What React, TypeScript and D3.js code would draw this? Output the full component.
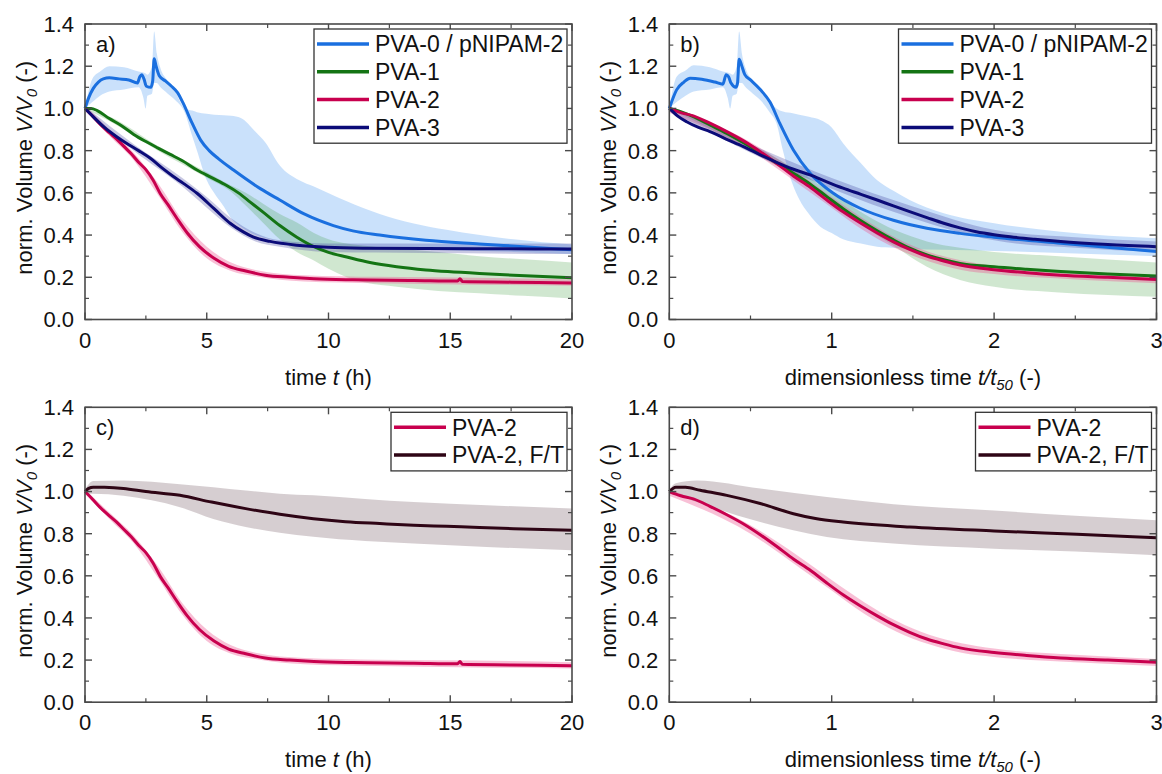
import * as d3 from "d3";

const W = 1162;
const H = 774;
const FONT = "'Liberation Sans', Arial, Helvetica, sans-serif";

type Pt = [number, number];
type Bd = [number, number, number];

// ---- x / y ticks ----
const timeTicks = [0, 5, 10, 15, 20];
const timeMinor = [2.5, 7.5, 12.5, 17.5];
const dimTicks = [0, 1, 2, 3];
const dimMinor = [0.5, 1.5, 2.5];
const volTicks = [0, 0.2, 0.4, 0.6, 0.8, 1.0, 1.2, 1.4];
const volMinor = [0.1, 0.3, 0.5, 0.7, 0.9, 1.1, 1.3];

// ---- panel a: time (h) ----
const pva0Time: Pt[] = [
  [0, 1.0], [0.15, 1.05], [0.34, 1.095], [0.55, 1.125], [0.75, 1.14], [1.0, 1.145], [1.4, 1.14],
  [1.8, 1.135], [2.15, 1.12], [2.25, 1.15], [2.33, 1.16], [2.42, 1.14], [2.52, 1.105], [2.7, 1.1],
  [2.78, 1.13], [2.84, 1.235], [2.92, 1.2], [3.05, 1.155], [3.3, 1.13], [3.55, 1.105], [3.8, 1.075],
  [4.05, 1.02], [4.4, 0.93], [4.75, 0.85], [5.1, 0.8], [5.5, 0.76], [6.1, 0.708], [7.2, 0.62],
  [8.0, 0.566], [9.0, 0.5], [10.2, 0.445], [11.0, 0.42], [12.1, 0.4], [14.0, 0.375], [16.2, 0.358],
  [18.0, 0.345], [20, 0.33],
];
const pva0TimeBand: Bd[] = [
  [0, 1.0, 1.0], [0.3, 1.03, 1.14], [0.62, 1.06, 1.175], [1.0, 1.08, 1.2], [1.6, 1.09, 1.195],
  [2.2, 1.1, 1.175], [2.4, 1.05, 1.17], [2.49, 1.0, 1.165], [2.56, 1.06, 1.16], [2.75, 1.07, 1.2],
  [2.84, 1.12, 1.365], [2.95, 1.12, 1.26], [3.1, 1.1, 1.19], [3.4, 1.07, 1.13], [3.7, 1.04, 1.08],
  [4.1, 0.98, 1.0], [4.4, 0.87, 0.99], [4.6, 0.8, 0.982], [5.0, 0.66, 0.975], [5.3, 0.6, 0.97],
  [5.7, 0.535, 0.968], [6.0, 0.48, 0.965], [6.4, 0.44, 0.955], [7.0, 0.4, 0.89], [7.4, 0.385, 0.84],
  [8.0, 0.37, 0.73], [8.8, 0.36, 0.66], [9.4, 0.355, 0.63], [10.75, 0.345, 0.56], [12.1, 0.338, 0.5],
  [13.5, 0.333, 0.455], [14.85, 0.328, 0.425], [17.6, 0.32, 0.38], [20, 0.31, 0.355],
];
const pva1Time: Pt[] = [
  [0, 1.0], [0.25, 1.0], [0.5, 0.99], [1.0, 0.952], [1.5, 0.918], [2.0, 0.877], [2.5, 0.843],
  [3.0, 0.812], [3.5, 0.782], [4.0, 0.752], [4.6, 0.708], [5.2, 0.672], [5.8, 0.636], [6.3, 0.6],
  [6.8, 0.555], [7.3, 0.51], [8.0, 0.445], [8.7, 0.39], [9.4, 0.345], [10.0, 0.318], [10.75, 0.296],
  [11.7, 0.27], [12.8, 0.25], [14.0, 0.235], [14.9, 0.227], [16.2, 0.218], [17.6, 0.21], [20, 0.198],
];
const pva1TimeBand: Bd[] = [
  [0, 1.0, 1.0], [1, 0.94, 0.962], [3, 0.8, 0.822], [5, 0.672, 0.698], [6.0, 0.605, 0.635],
  [6.6, 0.54, 0.6], [7.3, 0.46, 0.55], [8.0, 0.38, 0.5], [8.7, 0.32, 0.46], [9.4, 0.28, 0.41],
  [10.0, 0.24, 0.38], [10.75, 0.2, 0.36], [11.5, 0.175, 0.35], [12.8, 0.155, 0.335],
  [14.5, 0.135, 0.32], [16.2, 0.124, 0.3], [18, 0.112, 0.285], [20, 0.1, 0.27],
];
const pva2Time: Pt[] = [
  [0, 1.0], [0.3, 0.965], [0.62, 0.925], [1.0, 0.885], [1.3, 0.855], [1.6, 0.82], [1.9, 0.785],
  [2.2, 0.745], [2.5, 0.71], [2.8, 0.66], [3.1, 0.595], [3.4, 0.545], [3.8, 0.475], [4.2, 0.41],
  [4.7, 0.345], [5.3, 0.29], [5.9, 0.252], [6.6, 0.23], [7.4, 0.21], [8.4, 0.2], [9.4, 0.193],
  [11, 0.188], [13.5, 0.185], [15.3, 0.182], [15.4, 0.193], [15.5, 0.18], [17.5, 0.177], [20, 0.173],
];
const pva2TimeBand: Bd[] = [
  [0, 0.99, 1.01], [1, 0.87, 0.9], [2, 0.755, 0.79], [3, 0.59, 0.645], [4, 0.415, 0.47],
  [5, 0.29, 0.345], [6, 0.23, 0.27], [7, 0.205, 0.235], [9, 0.18, 0.21], [12, 0.172, 0.202],
  [16, 0.165, 0.198], [20, 0.16, 0.19],
];
const pva3Time: Pt[] = [
  [0, 1.0], [0.34, 0.96], [0.8, 0.91], [1.3, 0.866], [1.7, 0.835], [2.2, 0.8], [2.67, 0.765],
  [3.2, 0.715], [3.6, 0.68], [4.04, 0.645], [4.6, 0.598], [5.3, 0.525], [5.96, 0.456], [6.5, 0.415],
  [6.92, 0.39], [7.6, 0.37], [8.7, 0.352], [10, 0.342], [11.4, 0.338], [14, 0.336], [17, 0.335],
  [20, 0.334],
];
const pva3TimeBand: Bd[] = [
  [0, 0.99, 1.01], [2, 0.8, 0.83], [4, 0.63, 0.67], [5, 0.53, 0.58], [6, 0.435, 0.48],
  [7, 0.37, 0.41], [8, 0.345, 0.375], [10, 0.32, 0.36], [14, 0.315, 0.36], [20, 0.31, 0.36],
];

// ---- panel b: dimensionless time t/t50 ----
const pva0Dim: Pt[] = [
  [0, 1.0], [0.045, 1.088], [0.09, 1.125], [0.128, 1.143], [0.2, 1.138], [0.28, 1.125], [0.33, 1.115],
  [0.35, 1.16], [0.365, 1.15], [0.38, 1.12], [0.41, 1.1], [0.42, 1.12], [0.43, 1.233], [0.445, 1.205],
  [0.465, 1.16], [0.5, 1.135], [0.56, 1.09], [0.62, 1.03], [0.68, 0.93], [0.764, 0.803],
  [0.867, 0.693], [1.01, 0.598], [1.175, 0.527], [1.38, 0.47], [1.586, 0.432], [1.79, 0.408],
  [2.0, 0.39], [2.41, 0.361], [3.0, 0.322],
];
const pva0DimBand: Bd[] = [
  [0, 1.0, 1.0], [0.045, 1.03, 1.15], [0.1, 1.06, 1.18], [0.15, 1.08, 1.205], [0.25, 1.09, 1.195],
  [0.33, 1.1, 1.175], [0.36, 1.05, 1.17], [0.375, 1.0, 1.165], [0.39, 1.06, 1.16], [0.415, 1.07, 1.2],
  [0.43, 1.12, 1.365], [0.447, 1.12, 1.26], [0.47, 1.1, 1.19], [0.515, 1.07, 1.13], [0.56, 1.04, 1.08],
  [0.62, 0.98, 1.03], [0.66, 0.93, 1.0], [0.7, 0.8, 0.985], [0.76, 0.64, 0.977], [0.8, 0.57, 0.97],
  [0.86, 0.5, 0.96], [0.93, 0.44, 0.945], [1.0, 0.41, 0.91], [1.07, 0.38, 0.835], [1.18, 0.36, 0.74],
  [1.28, 0.345, 0.66], [1.38, 0.34, 0.61], [1.48, 0.335, 0.566], [1.69, 0.33, 0.503],
  [2.0, 0.325, 0.456], [2.41, 0.315, 0.416], [3.0, 0.3, 0.385],
];
const pva1Dim: Pt[] = [
  [0, 1.0], [0.07, 0.985], [0.148, 0.961], [0.25, 0.922], [0.354, 0.882], [0.46, 0.836], [0.56, 0.788],
  [0.66, 0.742], [0.764, 0.693], [0.87, 0.64], [0.97, 0.582], [1.07, 0.525], [1.175, 0.47],
  [1.28, 0.42], [1.38, 0.377], [1.48, 0.338], [1.586, 0.306], [1.69, 0.283], [1.79, 0.266],
  [2.0, 0.25], [2.2, 0.238], [2.41, 0.227], [2.7, 0.215], [3.0, 0.206],
];
const pva1DimBand: Bd[] = [
  [0, 1.0, 1.0], [0.5, 0.8, 0.83], [0.8, 0.66, 0.7], [1.0, 0.55, 0.6], [1.2, 0.44, 0.5],
  [1.4, 0.34, 0.42], [1.586, 0.25, 0.37], [1.79, 0.187, 0.34], [2.0, 0.155, 0.32], [2.4, 0.128, 0.3],
  [3.0, 0.108, 0.27],
];
const pva2Dim: Pt[] = [
  [0, 1.0], [0.07, 0.98], [0.148, 0.965], [0.25, 0.93], [0.354, 0.89], [0.46, 0.845], [0.56, 0.795],
  [0.66, 0.74], [0.764, 0.68], [0.87, 0.625], [0.97, 0.566], [1.07, 0.51], [1.175, 0.458],
  [1.28, 0.41], [1.38, 0.368], [1.48, 0.332], [1.586, 0.3], [1.69, 0.277], [1.79, 0.258],
  [2.0, 0.236], [2.2, 0.222], [2.41, 0.21], [2.7, 0.2], [3.0, 0.19],
];
const pva2DimBand: Bd[] = [
  [0, 0.98, 1.01], [0.5, 0.8, 0.84], [0.8, 0.64, 0.69], [1.0, 0.53, 0.58], [1.2, 0.42, 0.475],
  [1.4, 0.335, 0.385], [1.6, 0.275, 0.32], [1.8, 0.235, 0.28], [2.0, 0.215, 0.255], [2.5, 0.19, 0.225],
  [3.0, 0.172, 0.205],
];
const pva3Dim: Pt[] = [
  [0, 1.0], [0.05, 0.965], [0.107, 0.937], [0.18, 0.91], [0.25, 0.89], [0.35, 0.855], [0.456, 0.819],
  [0.56, 0.78], [0.66, 0.745], [0.76, 0.713], [0.867, 0.685], [0.97, 0.652], [1.07, 0.622],
  [1.18, 0.593], [1.28, 0.566], [1.38, 0.538], [1.48, 0.511], [1.586, 0.483], [1.69, 0.456],
  [1.79, 0.434], [1.89, 0.416], [2.0, 0.402], [2.1, 0.392], [2.25, 0.38], [2.41, 0.369],
  [2.7, 0.355], [3.0, 0.345],
];
const pva3DimBand: Bd[] = [
  [0, 0.99, 1.01], [0.5, 0.79, 0.83], [1.0, 0.62, 0.67], [1.5, 0.48, 0.535], [2.0, 0.375, 0.425],
  [2.5, 0.34, 0.39], [3.0, 0.32, 0.37],
];

// ---- panels c / d: freeze-thaw ----
const ftTime: Pt[] = [
  [0, 1.0], [0.15, 1.015], [0.34, 1.021], [0.8, 1.02], [1.58, 1.014], [2.5, 1.0], [3.9, 0.982],
  [5.2, 0.95], [6.6, 0.919], [8.0, 0.892], [9.38, 0.871], [10.7, 0.857], [12.1, 0.848], [13.5, 0.84],
  [14.85, 0.835], [16.2, 0.829], [17.6, 0.824], [20, 0.816],
];
const ftTimeBand: Bd[] = [
  [0, 0.99, 1.01], [0.34, 0.99, 1.05], [1.58, 0.98, 1.053], [3.9, 0.926, 1.035], [5.27, 0.87, 1.021],
  [6.6, 0.832, 1.005], [8.0, 0.805, 0.99], [9.38, 0.785, 0.982], [11.5, 0.765, 0.965],
  [13.5, 0.753, 0.95], [16.5, 0.737, 0.935], [20, 0.721, 0.919],
];
const ftDim: Pt[] = [
  [0, 1.0], [0.04, 1.021], [0.1, 1.02], [0.19, 1.006], [0.354, 0.982], [0.56, 0.943], [0.764, 0.895],
  [0.9, 0.872], [1.07, 0.855], [1.48, 0.832], [2.0, 0.813], [2.51, 0.797], [3.0, 0.781],
];
const ftDimBand: Bd[] = [
  [0, 0.99, 1.01], [0.04, 0.985, 1.04], [0.17, 0.95, 1.053], [0.56, 0.855, 1.014],
  [0.97, 0.784, 0.974], [1.38, 0.753, 0.94], [2.0, 0.729, 0.91], [2.5, 0.715, 0.885],
  [3.0, 0.698, 0.864],
];

const STYLE: Record<string, { line: string; fill: string; op: number }> = {
  "PVA-0 / pNIPAM-2": { line: "#1a6fdf", fill: "#2c86ee", op: 0.25 },
  "PVA-1": { line: "#147414", fill: "#3a9a3a", op: 0.24 },
  "PVA-2": { line: "#c8004e", fill: "#ec4f8c", op: 0.36 },
  "PVA-3": { line: "#0b0b78", fill: "#3a3a9a", op: 0.28 },
  "PVA-2, F/T": { line: "#2e0515", fill: "#5d3a48", op: 0.25 },
};

type Series = { name: string; line: Pt[]; band: Bd[] };

const timeTitle = (
  <>
    time <tspan fontStyle="italic">t</tspan> (h)
  </>
);
const dimTitle = (
  <>
    dimensionless time <tspan fontStyle="italic">t/t</tspan>
    <tspan fontStyle="italic" fontSize={15} dy={5}>50</tspan>
    <tspan dy={-5}> (-)</tspan>
  </>
);

const COLS = [
  { left: 85, right: 572 },
  { left: 669.3, right: 1156.5 },
];
const ROWS = [
  { top: 24, bottom: 319.5 },
  { top: 407.3, bottom: 702.2 },
];

const panels = [
  {
    id: "a", col: 0, row: 0, xMax: 20, xTicks: timeTicks, xMinor: timeMinor, xTitle: timeTitle, legendW: 253,
    series: [
      { name: "PVA-0 / pNIPAM-2", line: pva0Time, band: pva0TimeBand },
      { name: "PVA-1", line: pva1Time, band: pva1TimeBand },
      { name: "PVA-2", line: pva2Time, band: pva2TimeBand },
      { name: "PVA-3", line: pva3Time, band: pva3TimeBand },
    ] as Series[],
  },
  {
    id: "b", col: 1, row: 0, xMax: 3, xTicks: dimTicks, xMinor: dimMinor, xTitle: dimTitle, legendW: 253,
    series: [
      { name: "PVA-0 / pNIPAM-2", line: pva0Dim, band: pva0DimBand },
      { name: "PVA-1", line: pva1Dim, band: pva1DimBand },
      { name: "PVA-2", line: pva2Dim, band: pva2DimBand },
      { name: "PVA-3", line: pva3Dim, band: pva3DimBand },
    ] as Series[],
  },
  {
    id: "c", col: 0, row: 1, xMax: 20, xTicks: timeTicks, xMinor: timeMinor, xTitle: timeTitle, legendW: 176,
    series: [
      { name: "PVA-2", line: pva2Time, band: pva2TimeBand },
      { name: "PVA-2, F/T", line: ftTime, band: ftTimeBand },
    ] as Series[],
  },
  {
    id: "d", col: 1, row: 1, xMax: 3, xTicks: dimTicks, xMinor: dimMinor, xTitle: dimTitle, legendW: 176,
    series: [
      { name: "PVA-2", line: pva2Dim, band: pva2DimBand },
      { name: "PVA-2, F/T", line: ftDim, band: ftDimBand },
    ] as Series[],
  },
];

function Panel({ p }: { p: (typeof panels)[number] }) {
  const { left, right } = COLS[p.col];
  const { top, bottom } = ROWS[p.row];
  const x = d3.scaleLinear().domain([0, p.xMax]).range([left, right]);
  const y = d3.scaleLinear().domain([0, 1.4]).range([bottom, top]);

  const line = d3
    .line<Pt>()
    .x((d) => x(d[0]))
    .y((d) => y(d[1]))
    .curve(d3.curveMonotoneX);
  const area = d3
    .area<Bd>()
    .x((d) => x(d[0]))
    .y0((d) => y(d[1]))
    .y1((d) => y(d[2]))
    .curve(d3.curveMonotoneX);

  const axisCol = "#4a4a4a";
  const major = 7;
  const minor = 4;
  const rowH = 27.8;
  const legX = right - 5 - p.legendW;
  const legY = top + 5;
  const legH = p.series.length * rowH + 3;
  const fs = 22;

  return (
    <g>
      {/* bands then lines */}
      {p.series.map((s) => (
        <path key={s.name + "-band"} d={area(s.band) || ""} fill={STYLE[s.name].fill} fillOpacity={STYLE[s.name].op} />
      ))}
      {p.series.map((s) => (
        <path key={s.name + "-line"} d={line(s.line) || ""} fill="none" stroke={STYLE[s.name].line} strokeWidth={3} strokeLinejoin="round" />
      ))}

      {/* frame */}
      <rect x={left} y={top} width={right - left} height={bottom - top} fill="none" stroke={axisCol} strokeWidth={1.6} />

      {/* x ticks, top and bottom, inward */}
      {p.xTicks.map((t) => (
        <g key={"xt" + t}>
          <line x1={x(t)} x2={x(t)} y1={bottom} y2={bottom - major} stroke={axisCol} strokeWidth={1.4} />
          <line x1={x(t)} x2={x(t)} y1={top} y2={top + major} stroke={axisCol} strokeWidth={1.4} />
          <text x={x(t)} y={bottom + 28} textAnchor="middle" fontSize={fs}>{t}</text>
        </g>
      ))}
      {p.xMinor.map((t) => (
        <g key={"xm" + t}>
          <line x1={x(t)} x2={x(t)} y1={bottom} y2={bottom - minor} stroke={axisCol} strokeWidth={1.2} />
          <line x1={x(t)} x2={x(t)} y1={top} y2={top + minor} stroke={axisCol} strokeWidth={1.2} />
        </g>
      ))}

      {/* y ticks, left and right, inward */}
      {volTicks.map((t) => (
        <g key={"yt" + t}>
          <line x1={left} x2={left + major} y1={y(t)} y2={y(t)} stroke={axisCol} strokeWidth={1.4} />
          <line x1={right} x2={right - major} y1={y(t)} y2={y(t)} stroke={axisCol} strokeWidth={1.4} />
          <text x={left - 11} y={y(t)} dy="0.36em" textAnchor="end" fontSize={fs}>{t.toFixed(1)}</text>
        </g>
      ))}
      {volMinor.map((t) => (
        <g key={"ym" + t}>
          <line x1={left} x2={left + minor} y1={y(t)} y2={y(t)} stroke={axisCol} strokeWidth={1.2} />
          <line x1={right} x2={right - minor} y1={y(t)} y2={y(t)} stroke={axisCol} strokeWidth={1.2} />
        </g>
      ))}

      {/* titles */}
      <text x={(left + right) / 2} y={bottom + 65} textAnchor="middle" fontSize={fs}>{p.xTitle}</text>
      <text transform={`translate(${left - 53},${(top + bottom) / 2 - 4}) rotate(-90)`} textAnchor="middle" fontSize={fs}>
        norm. Volume <tspan fontStyle="italic">V/V</tspan>
        <tspan fontStyle="italic" fontSize={15} dy={5}>0</tspan>
        <tspan dy={-5}> (-)</tspan>
      </text>
      <text x={left + 11} y={top + 28} fontSize={fs}>{p.id})</text>

      {/* legend */}
      <rect x={legX} y={legY} width={p.legendW} height={legH} fill="#fff" stroke="#333" strokeWidth={1.3} />
      {p.series.map((s, i) => {
        const cy = legY + 15 + i * rowH;
        return (
          <g key={"leg" + s.name}>
            <line x1={legX + 3} x2={legX + 55} y1={cy} y2={cy} stroke={STYLE[s.name].line} strokeWidth={3.5} />
            <text x={legX + 61} y={cy} dy="0.36em" fontSize={23}>{s.name}</text>
          </g>
        );
      })}
    </g>
  );
}

export default function App() {
  return (
    <div style={{ position: "absolute", left: 0, top: 0 }}>
      <svg width={W} height={H} viewBox={`0 0 ${W} ${H}`} style={{ display: "block", background: "#fff" }} fontFamily={FONT} fill="#111">
        {panels.map((p) => (
          <Panel key={p.id} p={p} />
        ))}
      </svg>
    </div>
  );
}
